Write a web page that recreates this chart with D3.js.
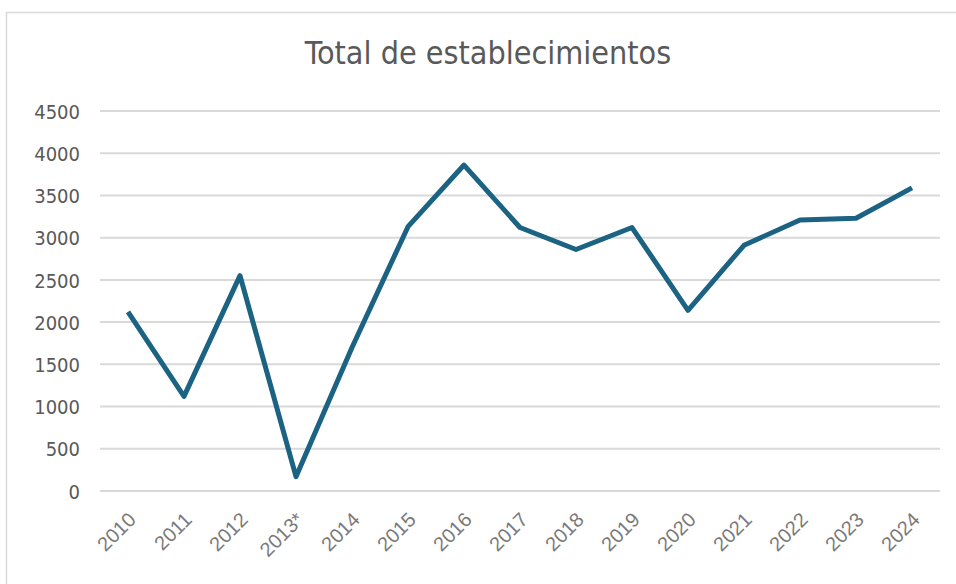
<!DOCTYPE html>
<html>
<head>
<meta charset="utf-8">
<script src="https://cdn.jsdelivr.net/npm/d3@7"></script>
<style>
  body { margin: 0; background: #fff; }
</style>
</head>
<body>
<div id="chart"></div>
<script>
const years = ['2010', '2011', '2012', '2013*', '2014', '2015', '2016', '2017',
    '2018', '2019', '2020', '2021', '2022', '2023', '2024'];
const establecimientos = [2120, 1120, 2550, 170, 1700, 3130, 3860, 3120,
    2860, 3120, 2140, 2910, 3210, 3230, 3590];
const yTicks = [0, 500, 1000, 1500, 2000, 2500, 3000, 3500, 4000, 4500];

function drawChart() {
    const width = 956;
    const height = 584;
    const margin = { top: 111, right: 16, bottom: 93, left: 100 };

    const svg = d3.select('#chart').append('svg')
        .attr('width', width)
        .attr('height', height);

    // chart area border (runs off the right/bottom edge)
    svg.append('rect')
        .attr('x', 6.5)
        .attr('y', 12.5)
        .attr('width', width)
        .attr('height', height)
        .attr('fill', 'none')
        .attr('stroke', '#d9d9d9')
        .attr('stroke-width', 1.5);

    const x = d3.scaleBand()
        .domain(years)
        .range([margin.left, width - margin.right]);

    const y = d3.scaleLinear()
        .domain([0, 4500])
        .range([height - margin.bottom, margin.top]);

    // gridlines
    svg.append('g')
        .selectAll('line')
        .data(yTicks)
        .enter()
        .append('line')
        .attr('x1', margin.left)
        .attr('x2', width - margin.right)
        .attr('y1', d => y(d))
        .attr('y2', d => y(d))
        .attr('stroke', '#d9d9d9')
        .attr('stroke-width', 2);

    // y axis labels
    const yAxis = d3.axisLeft(y).tickValues(yTicks).tickFormat(d3.format('d'))
        .tickSize(0).tickPadding(0);
    svg.append('g')
        .attr('transform', 'translate(80,0)')
        .call(yAxis)
        .call(g => g.select('.domain').remove())
        .selectAll('text')
        .attr('dy', '0.36em')
        .style('font-family', '"DejaVu Sans Condensed", "DejaVu Sans", sans-serif')
        .style('font-size', '20px')
        .style('fill', '#595959');

    // x axis labels, rotated
    const xAxis = d3.axisBottom(x).tickSize(0).tickPadding(0);
    svg.append('g')
        .attr('transform', `translate(0,${height - margin.bottom})`)
        .call(xAxis)
        .call(g => g.select('.domain').remove())
        .selectAll('text')
        .attr('text-anchor', 'end')
        .attr('dy', 0)
        .attr('transform', 'translate(9,30) rotate(-45)')
        .style('font-family', '"Liberation Sans", Arial, sans-serif')
        .style('font-size', '20px')
        .style('fill', '#7a7a7a');

    // line
    const line = d3.line()
        .x((d, i) => x(years[i]) + x.bandwidth() / 2)
        .y(d => y(d));

    svg.append('path')
        .datum(establecimientos)
        .attr('d', line)
        .attr('fill', 'none')
        .attr('stroke', '#1b6283')
        .attr('stroke-width', 5)
        .attr('stroke-linejoin', 'round');

    // title
    svg.append('text')
        .attr('x', 488)
        .attr('y', 64)
        .attr('text-anchor', 'middle')
        .style('font-family', '"DejaVu Sans Condensed", "DejaVu Sans", sans-serif')
        .style('font-size', '32px')
        .style('fill', '#595959')
        .text('Total de establecimientos');
}

drawChart();
</script>
</body>
</html>
